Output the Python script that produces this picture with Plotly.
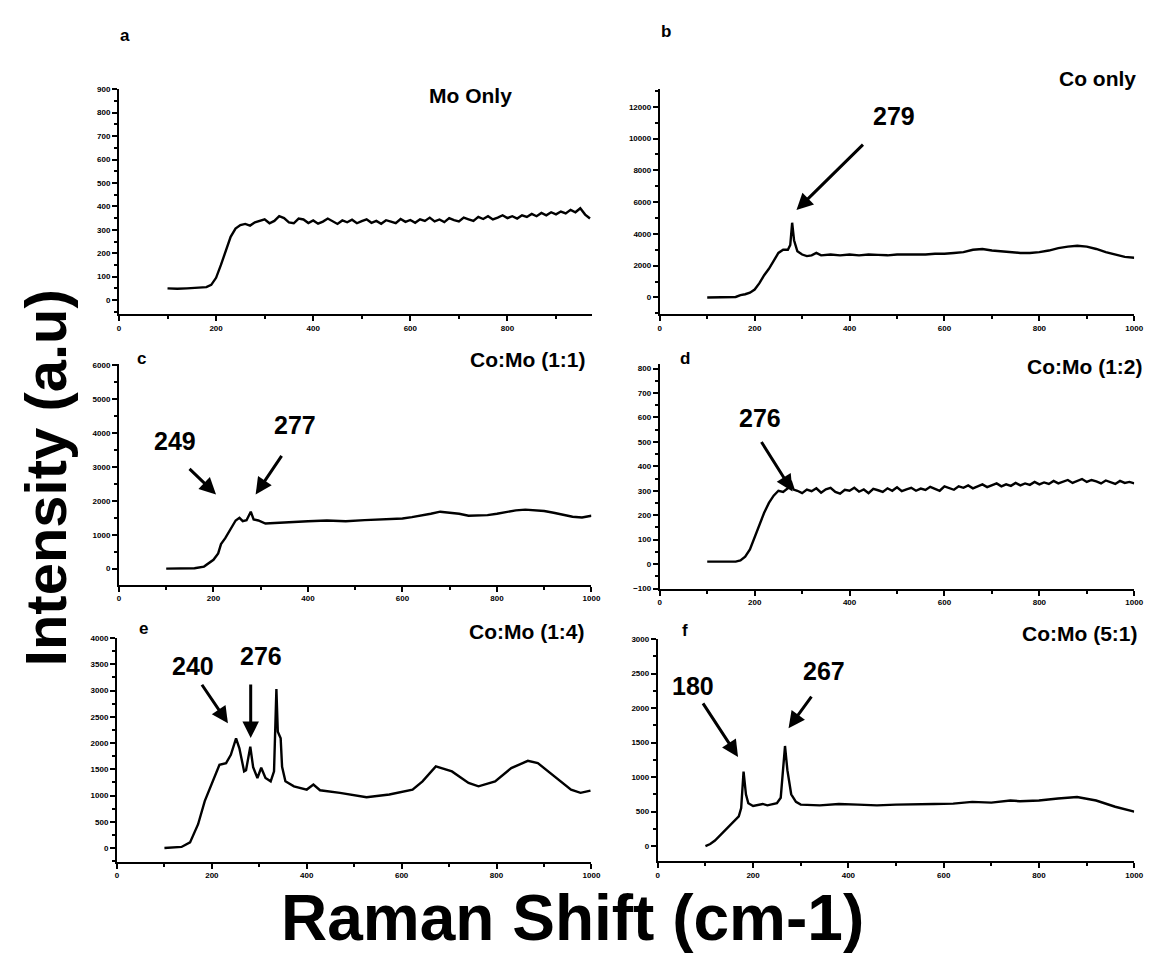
import plotly.graph_objects as go

W, H = 1160, 953

# ---------------- data ----------------
a_x = [100,120,140,160,180,190,200,210,220,230,240,
       250,260,270,280,290,300,310,320,330,340,350,360,370,380,390,400,410,420,430,440,450,460,470,480,490,
       500,510,520,530,540,550,560,570,580,590,600,610,620,630,640,650,660,670,680,690,700,710,720,730,740,
       750,760,770,780,790,800,810,820,830,840,850,860,870,880,890,900,910,920,930,940,950,960,970]
a_y = [50,48,50,52,55,65,95,150,215,270,305,
       320,325,318,332,340,345,328,338,358,350,332,328,348,344,329,340,326,335,348,338,325,340,332,343,328,
       337,345,330,338,326,341,335,328,346,334,342,330,345,338,352,336,344,333,350,341,336,352,345,338,355,
       346,358,344,352,362,350,358,348,362,355,368,358,372,362,375,366,378,370,385,375,392,365,348]

b_x = [100,120,140,160,170,180,190,200,210,220,230,240,250,260,270,275,279,283,290,300,310,320,330,340,360,380,400,420,440,460,480,500,520,540,560,580,600,620,640,660,680,700,720,740,760,780,800,820,840,860,880,900,920,940,960,980,1000]
b_y = [0,0,20,30,150,200,300,500,900,1400,1800,2300,2800,3000,3000,3300,4700,3600,2900,2700,2600,2650,2800,2650,2700,2650,2700,2650,2700,2680,2650,2700,2700,2680,2700,2750,2750,2800,2850,3000,3050,2950,2900,2850,2800,2800,2850,2950,3100,3200,3250,3200,3050,2850,2700,2550,2500]

c_x = [100,120,140,160,180,190,200,210,216,225,235,247,255,262,270,279,285,295,310,330,360,400,440,480,520,560,600,620,640,660,680,700,720,740,760,780,800,820,840,860,880,900,920,940,960,980,1000]
c_y = [0,0,0,10,60,150,260,450,725,900,1150,1420,1500,1400,1430,1680,1450,1420,1330,1350,1380,1400,1420,1400,1430,1450,1480,1520,1560,1620,1680,1650,1620,1560,1560,1580,1620,1680,1720,1740,1720,1700,1650,1580,1530,1510,1560]

d_x = [100,120,140,160,170,180,190,200,210,220,230,240,250,260,270,276,282,290,
       300,310,320,330,340,350,360,370,380,390,400,410,420,430,440,450,460,470,480,490,
       500,510,520,530,540,550,560,570,580,590,600,610,620,630,640,650,660,670,680,690,
       700,710,720,730,740,750,760,770,780,790,800,810,820,830,840,850,860,870,880,890,
       900,910,920,930,940,950,960,970,980,990,1000]
d_y = [10,10,12,10,15,30,60,110,160,210,250,280,300,295,310,340,305,300,
       290,305,298,310,292,306,312,295,288,304,300,312,296,305,290,308,302,295,310,300,
       314,298,306,312,300,309,303,316,308,300,318,310,304,318,312,322,310,318,326,315,
       322,330,318,326,320,332,322,330,324,336,326,334,328,340,330,336,344,332,340,348,
       336,344,338,330,342,334,328,340,332,336,330]

e_x = [100,120,136,154,171,185,199,216,230,240,251,258,268,272,281,287,296,304,313,324,331,336,339,345,348,355,373,400,414,428,470,526,574,623,644,672,706,741,762,797,831,866,887,922,957,977,998]
e_y = [0,10,20,107,453,893,1208,1585,1617,1774,2089,1900,1459,1480,1930,1540,1334,1528,1335,1270,1459,3030,2213,2089,1547,1270,1175,1113,1208,1100,1050,968,1019,1113,1270,1553,1459,1239,1175,1270,1522,1660,1617,1365,1113,1050,1094]

f_x = [100,110,120,130,140,150,160,170,175,180,185,190,200,210,220,230,240,250,258,263,267,272,280,290,300,340,380,420,460,500,540,580,620,660,700,740,760,800,840,880,920,960,1000]
f_y = [0,30,80,150,220,280,350,430,550,1080,750,620,580,600,610,590,600,620,700,1100,1450,1100,750,640,600,590,610,600,590,600,600,610,615,640,630,660,650,660,690,710,660,570,500]

panel_letters = ["a", "b", "c", "d", "e", "f"]
panel_titles = ["Mo Only", "Co only", "Co:Mo (1:1)", "Co:Mo (1:2)", "Co:Mo (1:4)", "Co:Mo (5:1)"]
x_ranges = [[0, 975], [0, 1000], [0, 1000], [0, 1000], [0, 1000], [0, 1000]]
y_ranges = [[-60, 900], [-1050, 13100], [-470, 6050], [-100, 820], [-265, 4000], [-215, 3000]]
y_dticks = [100, 2000, 1000, 100, 500, 500]

peak_labels = ["279", "249", "277", "276", "240", "276", "180", "267"]

# ---------------- layout geometry (pixels) ----------------
dom_px = [
    (110, 588, 78, 305),
    (656, 1135, 78, 305),
    (110, 587, 355, 578),
    (656, 1135, 355, 582),
    (108, 587, 632, 858),
    (654, 1135, 633, 857),
]
letter_px = [(116, 24), (662, 20), (133, 350), (681, 350), (135, 622), (681, 624)]
title_px = [(465, 84), (1098, 67), (522, 351), (1085, 358), (521, 625), (1080, 627)]
peak_text_px = [(892, 105), (167, 433), (288, 417), (757, 410), (185, 660), (253, 650), (690, 680), (822, 665)]
peak_tail_px = [(862, 133), (180, 460), (275, 447), (758, 433), (193, 678), (243, 678), (699, 697), (810, 690)]
peak_head_px = [(794, 200), (208, 487), (248, 487), (790, 484), (220, 718), (243, 733), (735, 752), (786, 723)]

xs = [a_x, b_x, c_x, d_x, e_x, f_x]
ys = [a_y, b_y, c_y, d_y, e_y, f_y]

fig = go.Figure()
FONT = "Liberation Sans, Arial, sans-serif"

def px2paper(px, py):
    return px / W, 1 - py / H

layout = dict(
    width=W, height=H,
    margin=dict(l=0, r=0, t=0, b=0),
    paper_bgcolor="white", plot_bgcolor="white",
    showlegend=False,
    font=dict(family=FONT, color="black"),
)

annotations = []
for i in range(6):
    n = "" if i == 0 else str(i + 1)
    fig.add_trace(go.Scatter(
        x=xs[i], y=ys[i], mode="lines",
        line=dict(color="black", width=2.4),
        xaxis="x" + n, yaxis="y" + n, hoverinfo="skip",
    ))
    x0, x1, yt, yb = dom_px[i]
    common = dict(
        showline=True, linecolor="black", linewidth=2,
        showgrid=False, zeroline=False,
        ticks="outside", ticklen=5, tickwidth=2, tickcolor="black",
        tickformat="d",
        tickfont=dict(family=FONT, size=8, color="black", weight="bold"),
    )
    layout["xaxis" + n] = dict(
        domain=[x0 / W, x1 / W], range=x_ranges[i], anchor="y" + n,
        dtick=200, tick0=0,
        minor=dict(ticks="outside", ticklen=3, tickwidth=1.5, dtick=100, tickcolor="black"),
        **common,
    )
    layout["yaxis" + n] = dict(
        domain=[1 - yb / H, 1 - yt / H], range=y_ranges[i], anchor="x" + n,
        dtick=y_dticks[i], tick0=0,
        minor=dict(ticks="outside", ticklen=3, tickwidth=1.5, dtick=y_dticks[i] / 2, tickcolor="black"),
        **common,
    )
    lx, ly = px2paper(*letter_px[i])
    annotations.append(dict(text=panel_letters[i], x=lx, y=ly, xref="paper", yref="paper",
                            showarrow=False, xanchor="center", yanchor="middle",
                            font=dict(family=FONT, size=17, weight="bold")))
    tx, ty = px2paper(*title_px[i])
    annotations.append(dict(text=panel_titles[i], x=tx, y=ty, xref="paper", yref="paper",
                            showarrow=False, xanchor="center", yanchor="middle",
                            font=dict(family=FONT, size=21, weight="bold")))

for k, lab in enumerate(peak_labels):
    tx, ty = px2paper(*peak_text_px[k])
    annotations.append(dict(text=lab, x=tx, y=ty, xref="paper", yref="paper",
                            showarrow=False, xanchor="center", yanchor="middle",
                            font=dict(family=FONT, size=25, weight="bold")))
    hx, hy = px2paper(*peak_head_px[k])
    dx = peak_tail_px[k][0] - peak_head_px[k][0]
    dy = peak_tail_px[k][1] - peak_head_px[k][1]
    annotations.append(dict(text="", x=hx, y=hy, xref="paper", yref="paper",
                            ax=dx, ay=dy, axref="pixel", ayref="pixel",
                            showarrow=True, arrowhead=2, arrowsize=1.1, arrowwidth=3,
                            arrowcolor="black", standoff=0, startstandoff=0))

# big axis titles
yx, yy = px2paper(36, 470)
annotations.append(dict(text="Intensity (a.u)", x=yx, y=yy, xref="paper", yref="paper",
                        showarrow=False, textangle=-90, xanchor="center", yanchor="middle",
                        font=dict(family=FONT, size=58, weight="bold")))
xx, xy = px2paper(568, 915)
annotations.append(dict(text="Raman Shift (cm-1)", x=xx, y=xy, xref="paper", yref="paper",
                        showarrow=False, xanchor="center", yanchor="middle",
                        font=dict(family=FONT, size=64, weight="bold")))

layout["annotations"] = annotations
fig.update_layout(**layout)
fig.write_html("out.html")
